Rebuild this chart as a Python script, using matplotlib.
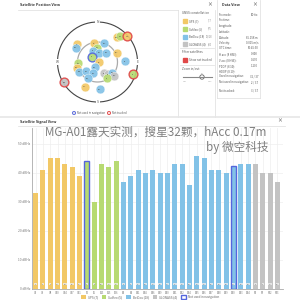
import matplotlib.pyplot as plt
import numpy as np
from matplotlib.patches import Rectangle, Patch, Circle
from matplotlib.lines import Line2D

plt.rcParams['font.family'] = ['Noto Sans CJK SC', 'DejaVu Sans']

# ---- signal view data ----
gps_ids = ['G1', 'G3', 'G8', 'G10', 'G14', 'G17', 'G21']
gps_cno = [33, 41, 45, 45, 43, 42, 39]
gal_ids = ['E3', 'E5', 'E13', 'E15', 'E26']
gal_cno = [44, 30, 43, 42, 44]
bds_ids = ['B6', 'B9', 'B11', 'B14', 'B16', 'B19', 'B20', 'B21', 'B22', 'B24',
           'B25', 'B26', 'B27', 'B28', 'B29', 'B30', 'B33', 'B34']
bds_cno = [37, 39, 41, 40, 41, 40, 40, 43, 43, 36, 46, 45, 41, 41, 40, 42.5, 43, 43]
glo_ids = ['R2', 'R3', 'R12', 'R13']
glo_cno = [43, 40, 40, 37]
not_used = ['E3', 'B30']

# ---- sky view data (azimuth deg, elevation deg, constellation, state) ----
sky_az = [38, 41, 49, 311, 303, 350, 19, 358, 338, 9, 43, 65, 312, 90, 88, 267,
          254, 207, 242, 232, 202, 211, 149, 139, 127, 130, 149, 109, 239, 207, 175]
sky_el = [19, 13, 2, 29, 32, 47, 45, 58, 63, 69, 62, 42, 73, 86, 28, 46,
          42, 77, 43, 57, 63, 48, 61, 54, 49, 41, 48, 6, 2, 27, 29]
sky_sys = ['G', 'E', 'G', 'G', 'B', 'G', 'B', 'E', 'B', 'B', 'B', 'G', 'E', 'G', 'B', 'E',
           'G', 'B', 'B', 'B', 'B', 'B', 'R', 'R', 'B', 'R', 'E', 'E', 'R', 'G', 'B']
sky_state = ['', '', 'nt', '', '', '', '', '', '', '', '', '', 'nu', '', '', '',
             '', '', '', '', '', '', '', '', '', '', '', 'nt', 'nt', '', '']
sky_ids = ['G10', 'E13', 'G32', 'G3', 'B14', 'G8', 'B21', 'E15', 'B9', 'B11', 'B16', 'G17',
           'E3', 'G1', 'B6', 'E26', 'G14', 'B19', 'B20', 'B22', 'B24', 'B25', 'R2', 'R3',
           'B26', 'R12', 'E5', 'E7', 'R20', 'G21', 'B27']

col = {'G': '#F2C866', 'E': '#B7DA72', 'B': '#82C2E7', 'R': '#C3C3C3'}
nu_edge = '#5566DD'
red = '#E04848'
txt = '#555555'

fig = plt.figure(figsize=(3, 3), dpi=100)
fig.patch.set_facecolor('white')


def fx(x):
    return x / 300


def fy(y):
    return 1 - y / 300


def hline(x0, x1, y, c='#DDDDDD', lw=0.5):
    fig.add_artist(Line2D([fx(x0), fx(x1)], [fy(y), fy(y)], color=c, lw=lw))


def vline(x, y0, y1, c='#DDDDDD', lw=0.5):
    fig.add_artist(Line2D([fx(x), fx(x)], [fy(y0), fy(y1)], color=c, lw=lw))


# ---- top panels frame ----
fig.text(fx(20), fy(5), 'Satellite Position View', fontsize=2.6, weight='bold', color='#333', va='center')
hline(18, 178, 10)
vline(178, 10, 117)
vline(215, 10, 117)
vline(217, 0, 98)
vline(260, 0, 98)
hline(217, 260, 98)
hline(0, 300, 117, c='#E6E6E6', lw=1.2)
fig.text(fx(210), fy(5), '×', fontsize=3.5, color='#333', ha='center', va='center')
fig.text(fx(222), fy(5), 'Data View', fontsize=2.6, weight='bold', color='#333', va='center')
fig.text(fx(255), fy(5), '×', fontsize=3.5, color='#333', ha='center', va='center')

# constellation panel
fig.text(fx(182), fy(13), 'GNSS constellation', fontsize=2.2, color=txt, va='center')
counts = [len(gps_ids), len(gal_ids), len(bds_ids), len(glo_ids)]
names = ['GPS', 'Galileo', 'BeiDou', 'GLONASS']
for k, (s, n, c) in enumerate(zip('GEBR', names, counts)):
    y = 21 + k * 7.8
    fig.add_artist(Rectangle((fx(183), fy(y + 2)), 4 / 300, 4 / 300, color=col[s]))
    fig.text(fx(189), fy(y), f'{n} ({c})', fontsize=2.0, color=txt, va='center')
    fig.text(fx(212), fy(y), f'{c}/{c}', fontsize=1.8, color='#888', va='center', ha='right')
hline(180, 214, 48)
fig.text(fx(182), fy(52), 'Filter satellites', fontsize=2.2, color=txt, va='center')
fig.add_artist(Rectangle((fx(183), fy(62)), 4 / 300, 4 / 300, color=red))
fig.text(fx(189), fy(60), 'Show not tracked', fontsize=2.0, color=txt, va='center')
hline(180, 214, 65)
fig.text(fx(182), fy(69), 'Zoom in/out', fontsize=2.2, color=txt, va='center')
hline(183, 212, 77, c='#888888', lw=0.8)
fig.add_artist(Circle((fx(202), fy(77)), 2.2 / 300, facecolor='white', edgecolor='#666', lw=0.6))
fig.text(fx(202), fy(73), '90', fontsize=1.6, color='#888', ha='center', va='center')
fig.text(fx(185), fy(82), 'min', fontsize=1.6, color='#aaa', ha='center', va='center')
fig.text(fx(210), fy(82), 'max', fontsize=1.6, color='#aaa', ha='center', va='center')

# data view rows
rows = [('Fix mode:', '3D-fix'), ('Fix time:', ''), ('Longitude:', ''), ('Latitude:', ''),
        ('Altitude:', '85.158 m'), ('Velocity:', '0.015 m/s'), ('UTC time:', '10:45:30'),
        ('H acc (8 HSE):', '0.300'), ('V acc (8 HSE):', '0.170'), ('PDOP (8 10):', '1.100'),
        ('HDOP (8 10):', ''), ('Used in navigation:', '32 / 37'),
        ('Not used in navigation:', '2 / 37'), ('Not tracked:', '3 / 37')]
row_y = [15, 20, 26, 32, 38, 43, 48, 54, 60, 66, 71, 76, 82, 91]
for (k, v), y in zip(rows, row_y):
    fig.text(fx(219), fy(y), k, fontsize=2.0, color=txt, ha='left', va='center')
    fig.text(fx(258), fy(y), v, fontsize=2.0, color=txt, ha='right', va='center')

# ---- sky plot ----
sky = fig.add_axes([fx(57.5), fy(102), 80 / 300, 80 / 300], projection='polar')
sky.set_theta_zero_location('N')
sky.set_theta_direction(-1)
sky.set_rlim(0, 90)
sky.grid(False)
sky.set_xticks([])
sky.set_yticks([])
sky.spines['polar'].set_color('#444444')
sky.spines['polar'].set_linewidth(0.8)
tt = np.linspace(0, 2 * np.pi, 200)
sky.plot(tt, np.full_like(tt, 45), color='#AAAAAA', lw=0.9)
for a, lab in zip([0, 90, 180, 270], ['N', 'E', 'S', 'W']):
    sky.text(np.radians(a), 90, lab, fontsize=2.4, color='#555', ha='center', va='center',
             bbox=dict(boxstyle='square,pad=0.3', fc='white', ec='none'))
for a, e, s, st, n in zip(sky_az, sky_el, sky_sys, sky_state, sky_ids):
    ec = red if st == 'nt' else (nu_edge if st == 'nu' else 'white')
    lw = 1.0 if st else 0.3
    sky.scatter(np.radians(a), 90 - e, s=40, color=col[s], edgecolor=ec, linewidth=lw,
                alpha=0.92, zorder=3, clip_on=False)
    sky.text(np.radians(a), 90 - e, n, fontsize=1.3, color='#444', ha='center', va='center',
             zorder=4)
sky.set_facecolor('none')

fig.add_artist(Circle((fx(74), fy(113)), 1.6 / 300, facecolor='#dde', edgecolor=nu_edge, lw=0.6))
fig.text(fx(77), fy(113), 'Not used in navigation', fontsize=1.9, color=txt, va='center')
fig.add_artist(Circle((fx(109), fy(113)), 1.6 / 300, facecolor='#fdd', edgecolor=red, lw=0.6))
fig.text(fx(112), fy(113), 'Not tracked', fontsize=1.9, color=txt, va='center')

# ---- signal view ----
fig.text(fx(20), fy(122), 'Satellite Signal View', fontsize=2.6, weight='bold', color='#333', va='center')
fig.text(fx(280), fy(121), '×', fontsize=3.5, color='#333', ha='center', va='center')
hline(18, 285, 126)

ids = gps_ids + gal_ids + bds_ids + glo_ids
cno = gps_cno + gal_cno + bds_cno + glo_cno
sys_of = ['G'] * len(gps_ids) + ['E'] * len(gal_ids) + ['B'] * len(bds_ids) + ['R'] * len(glo_ids)
colors = [col[s] for s in sys_of]
edges = [nu_edge if i in not_used else c for i, c in zip(ids, colors)]
lws = [1.0 if i in not_used else 0 for i in ids]
xs = np.arange(len(ids))

ax = fig.add_axes([fx(32), fy(289), (283 - 32) / 300, (289 - 128) / 300])
ax.bar(xs, cno, width=0.68, color=colors, edgecolor=edges, linewidth=lws, zorder=2)
for x, i in zip(xs, ids):
    ax.text(x, 1.7, i[1:], fontsize=1.6, color='#666', ha='center', va='center', zorder=3,
            bbox=dict(boxstyle='square,pad=0.25', fc='#EEEEEE', ec='none', alpha=0.8))
ax.set_xlim(-0.48, 33.76)
ax.set_ylim(0, 55.5)
ax.set_yticks([0, 10, 20, 30, 40, 50])
ax.set_yticklabels([f'{v} dBHz' for v in [0, 10, 20, 30, 40, 50]], fontsize=2.3, color='#777')
ax.set_xticks(xs)
ax.set_xticklabels(ids, fontsize=1.9, color='#777')
ax.tick_params(length=0, pad=1.5)
ax.grid(True, color='#EEEEEE', lw=0.5, zorder=0)
for sp in ['top', 'right']:
    ax.spines[sp].set_visible(False)
ax.spines['left'].set_color('#AAAAAA')
ax.spines['bottom'].set_color('#AAAAAA')
ax.spines['left'].set_linewidth(0.6)
ax.spines['bottom'].set_linewidth(0.6)

handles = [Patch(facecolor=col[s], edgecolor='none', label=f'{n} ({c})')
           for s, n, c in zip('GEBR', names, counts)]
handles.append(Patch(facecolor='white', edgecolor=nu_edge, label='Not used in navigation'))
fig.legend(handles=handles, loc='center', bbox_to_anchor=(fx(150), fy(297)), ncol=5,
           fontsize=2.2, frameon=False, handlelength=1.6, handleheight=1.6,
           columnspacing=1.2, handletextpad=0.6, labelcolor='#666')

fig.text(fx(45), fy(132), 'MG-A01露天实测，搜星32颗，hAcc 0.17m', fontsize=8.4, color='#7F7F7F',
         ha='left', va='center')
fig.text(fx(268), fy(147.5), 'by 微空科技', fontsize=8.4, color='#7F7F7F', ha='right', va='center')

fig.savefig('out.png', dpi=100, facecolor='white')
